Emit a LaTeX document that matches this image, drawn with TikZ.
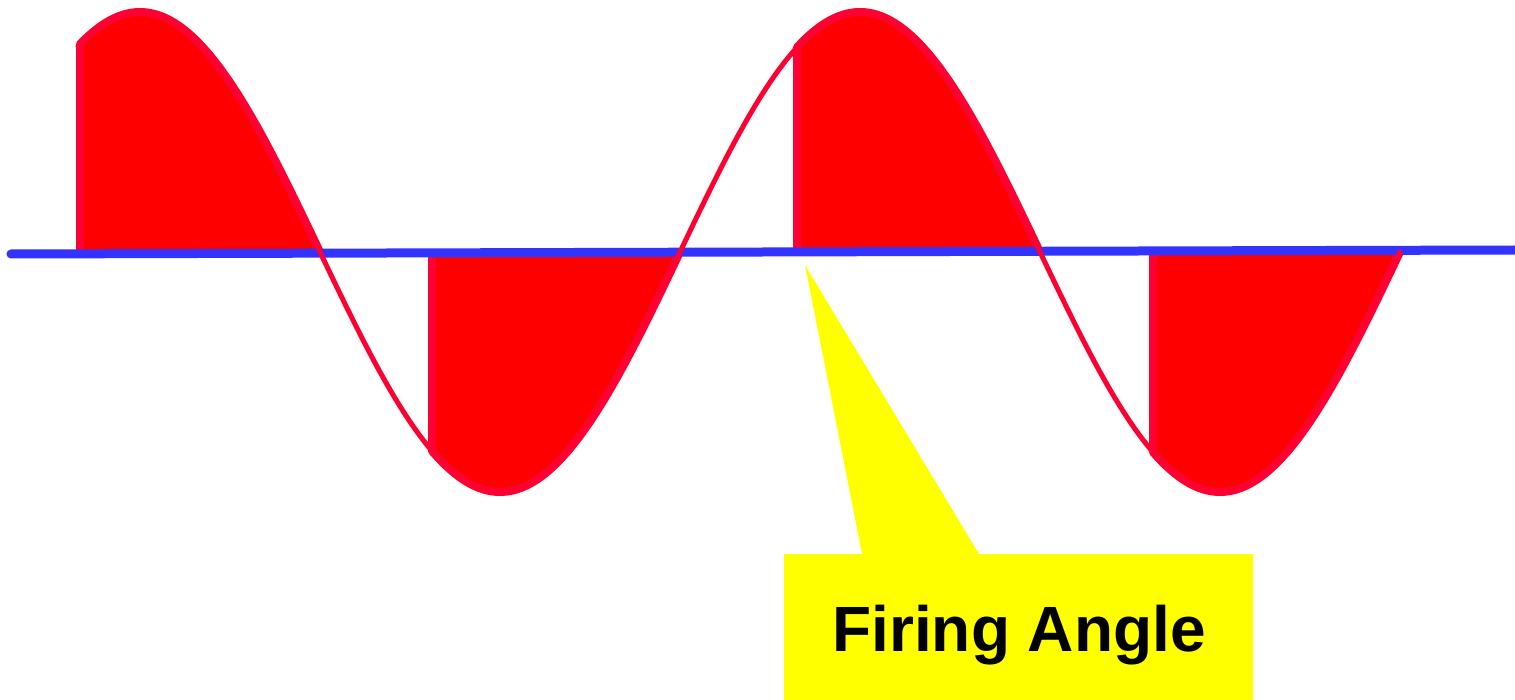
\documentclass[tikz,border=0pt]{standalone}
\usepackage{fontspec}
\setmainfont{Liberation Sans}
\definecolor{fillred}{HTML}{FF0000}
\definecolor{wavered}{HTML}{FF0033}
\definecolor{axisblue}{HTML}{3333FF}
\definecolor{callyellow}{HTML}{FFFF00}
\tikzset{
  lobefill/.style={fill=fillred, draw=none},
  lobeedge/.style={draw=wavered, line width=8pt, line join=round, line cap=butt},
  wave/.style={draw=wavered, line width=5pt, line cap=round, line join=round},
  axisline/.style={draw=axisblue, line width=9pt, line cap=round},
  callout/.style={fill=callyellow, draw=none},
  labeltext/.style={font=\fontsize{64}{70}\selectfont\bfseries, text=black, inner sep=0pt}
}
\newcommand{\wy}[1]{252-240*sin((#1+40)/2)}
\newcommand{\lobe}[2]{%
  \path[lobefill] (#1,252) -- plot[domain=#1:#2, samples=80] (\x, {\wy{\x}}) -- cycle;
  \draw[lobeedge] (#1,252) -- plot[domain=#1:#2, samples=80] (\x, {\wy{\x}});
}
\begin{document}
\begin{tikzpicture}[x=1pt, y=-1pt]
\useasboundingbox (0,0) rectangle (1515,700);
% filled lobes (after firing angle)
\lobe{80}{320}
\lobe{432}{680}
\lobe{797}{1040}
\lobe{1153}{1400}
% axis
\coordinate (axL) at (11,254);
\coordinate (axR) at (1515,250);
\draw[axisline] (axL) -- (axR);
% sine wave
\draw[wave] plot[domain=78:1400, samples=400] (\x, {\wy{\x}});
% callout
\coordinate (tip) at (805,265);
\path[callout] (784,554) -- (862,554) -- (tip) -- (979,554) -- (1253,554) -- (1253,700) -- (784,700) -- cycle;
\node[labeltext, anchor=base] (label) at (1019,651) {Firing Angle};
\end{tikzpicture}
\end{document}
